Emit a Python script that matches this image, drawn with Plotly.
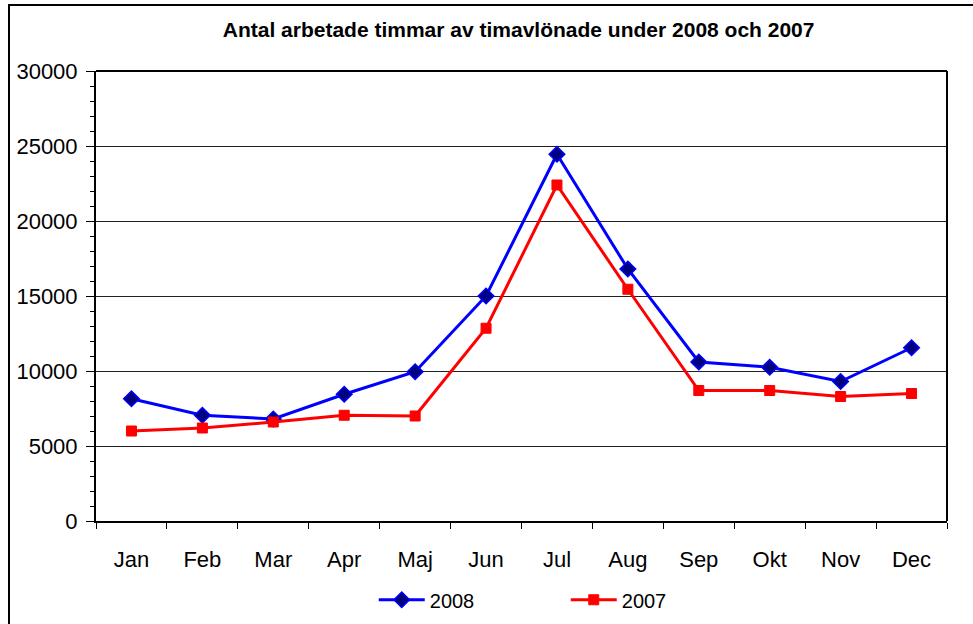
import plotly.graph_objects as go

months = ["Jan", "Feb", "Mar", "Apr", "Maj", "Jun", "Jul", "Aug", "Sep", "Okt", "Nov", "Dec"]
hours_2008 = [8150, 7050, 6800, 8450, 9950, 15000, 24450, 16800, 10600, 10250, 9300, 11550]
hours_2007 = [6000, 6200, 6600, 7050, 7000, 12850, 22400, 15450, 8700, 8700, 8300, 8500]
y_ticks = [0, 5000, 10000, 15000, 20000, 25000, 30000]
title_text = "Antal arbetade timmar av timavlönade under 2008 och 2007"

FONT = "Liberation Sans, Arial, sans-serif"

fig = go.Figure()
fig.add_trace(go.Scatter(
    x=months, y=hours_2008, name="2008", mode="lines+markers",
    line=dict(color="#0000FF", width=3),
    marker=dict(symbol="diamond", size=12, color="#000080", line=dict(color="#0000FF", width=1.5)),
))
fig.add_trace(go.Scatter(
    x=months, y=hours_2007, name="2007", mode="lines+markers",
    line=dict(color="#FF0000", width=3),
    marker=dict(symbol="square", size=10, color="#FF0000", line=dict(color="#FF0000", width=1)),
))

fig.update_layout(
    width=973, height=624,
    margin=dict(l=96, r=26, t=71, b=103, autoexpand=False),
    paper_bgcolor="white", plot_bgcolor="white",
    font=dict(family=FONT, color="black"),
    title=dict(text="<b>" + title_text + "</b>", x=0.533, xanchor="center",
               y=1 - 30 / 624, yanchor="middle",
               font=dict(family=FONT, size=21, color="black")),
    showlegend=True,
    legend=dict(orientation="h", x=0.552, xanchor="center", y=-0.175, yanchor="middle",
                font=dict(family=FONT, size=20, color="black"),
                itemwidth=46, entrywidth=131, bgcolor="rgba(0,0,0,0)"),
    xaxis=dict(
        type="category", range=[-0.5, 11.5], tickson="boundaries",
        ticks="outside", ticklen=6, tickcolor="black", tickwidth=1,
        showline=True, linecolor="black", linewidth=2, mirror=False,
        showgrid=False, zeroline=False, automargin=False,
        tickfont=dict(family=FONT, size=22, color="black"),
        ticklabelstandoff=18,
    ),
    yaxis=dict(
        range=[0, 30000], tickvals=y_ticks, ticktext=[str(v) for v in y_ticks],
        ticks="outside", ticklen=8, tickcolor="black", tickwidth=1,
        showline=True, linecolor="black", linewidth=2,
        showgrid=True, gridcolor="#222222", gridwidth=1,
        zeroline=False, automargin=False,
        tickfont=dict(family=FONT, size=22, color="black"),
        ticklabelstandoff=4,
        minor=dict(tickvals=[v for v in range(1000, 30000, 1000) if v % 5000 != 0],
                   ticks="outside", ticklen=4, tickcolor="black", tickwidth=1, showgrid=False),
    ),
    shapes=[
        dict(type="rect", xref="paper", yref="paper",
             x0=(9 - 96) / 851, x1=1.2, y0=-0.5, y1=(521 - 5) / 450,
             line=dict(color="black", width=2), fillcolor="rgba(0,0,0,0)", layer="below"),
        dict(type="line", xref="paper", yref="paper", x0=1, x1=1, y0=0, y1=1,
             line=dict(color="black", width=2)),
        dict(type="line", xref="paper", yref="paper", x0=0, x1=1, y0=1, y1=1,
             line=dict(color="black", width=2)),
    ],
)

fig.write_html("out.html", config={"displayModeBar": False},
               post_script="document.body.style.margin='0';")
